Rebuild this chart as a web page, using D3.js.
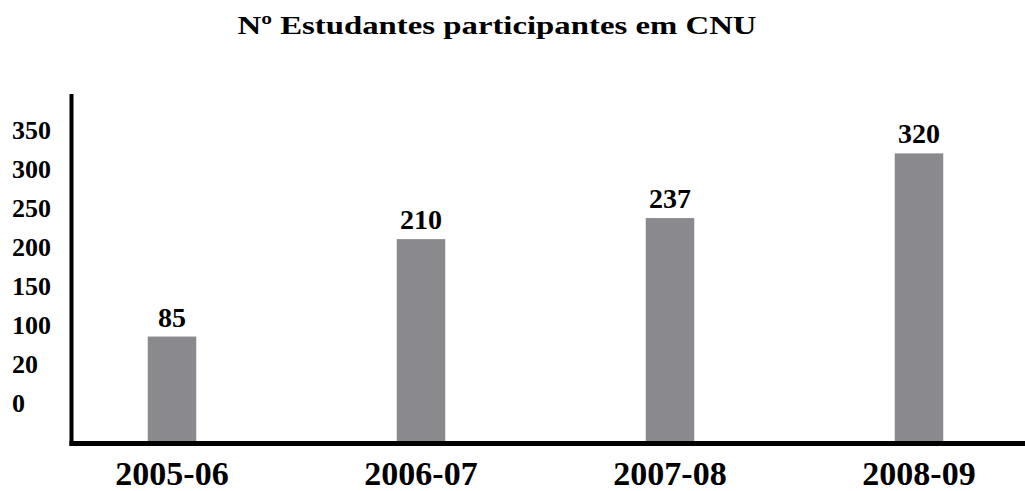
<!DOCTYPE html>
<html>
<head>
<meta charset="utf-8">
<script src="https://cdn.jsdelivr.net/npm/d3@7"></script>
<style>
    body { margin: 0; background: #fff; }
    svg { display: block; }
</style>
</head>
<body>
<svg id="chart" width="1025" height="491"></svg>
<script>
// data
var years = ["2005-06", "2006-07", "2007-08", "2008-09"];
var students = [85, 210, 237, 320];
var tickValues = [0, 50, 100, 150, 200, 250, 300, 350];
var tickLabels = ["0", "20", "100", "150", "200", "250", "300", "350"]; // as printed in the original

var serif = '"Liberation Serif", "DejaVu Serif", serif';

var svg = d3.select("#chart");

var baseY = 441,
    axisX = 71.5;

// x scale: one band per school year
var x = d3.scaleBand()
    .domain(years)
    .range([47.5, 1043.5]);

// y scale: the x axis sits a little below zero in the original
var y = d3.scaleLinear()
    .domain([-49, 350])
    .range([baseY, 130]);

// title
svg.append("text")
    .attr("x", 497)
    .attr("y", 34)
    .attr("text-anchor", "middle")
    .attr("textLength", 519)
    .attr("lengthAdjust", "spacingAndGlyphs")
    .style("font-family", serif)
    .style("font-weight", "bold")
    .style("font-size", "26px")
    .text("Nº Estudantes participantes em CNU");

// bars
var barW = 48.5;
svg.selectAll(".bar")
    .data(students)
    .enter().append("rect")
    .attr("class", "bar")
    .attr("x", function(d, i) { return x(years[i]) + x.bandwidth() / 2 - barW / 2; })
    .attr("y", function(d) { return y(d); })
    .attr("width", barW)
    .attr("height", function(d) { return baseY - y(d); })
    .style("fill", "#8a898e");

// value labels
svg.selectAll(".val")
    .data(students)
    .enter().append("text")
    .attr("class", "val")
    .attr("x", function(d, i) { return x(years[i]) + x.bandwidth() / 2; })
    .attr("y", function(d) { return y(d) - 10; })
    .attr("text-anchor", "middle")
    .style("font-family", serif)
    .style("font-weight", "bold")
    .style("font-size", "28px")
    .style("fill", "#000")
    .text(function(d) { return d; });

// y axis labels
var yAxis = d3.axisLeft(y)
    .tickValues(tickValues)
    .tickSize(0)
    .tickFormat(function(d, i) { return tickLabels[i]; });

var gy = svg.append("g")
    .attr("class", "y axis")
    .call(yAxis);
gy.select(".domain").remove();
gy.selectAll("text")
    .attr("x", 12)
    .attr("dy", "0.34em")
    .attr("text-anchor", "start")
    .style("font-family", serif)
    .style("font-weight", "bold")
    .style("font-size", "26px")
    .style("fill", "#000");

// x axis labels
var xAxis = d3.axisBottom(x).tickSize(0);
var gx = svg.append("g")
    .attr("class", "x axis")
    .attr("transform", "translate(0," + baseY + ")")
    .call(xAxis);
gx.select(".domain").remove();
gx.selectAll("text")
    .attr("y", 44)
    .attr("dy", 0)
    .style("font-family", serif)
    .style("font-weight", "bold")
    .style("font-size", "34px")
    .style("fill", "#000");

// axis lines
svg.append("line")
    .attr("x1", axisX).attr("x2", axisX)
    .attr("y1", 94).attr("y2", baseY + 5)
    .style("stroke", "#000")
    .style("stroke-width", 4);

svg.append("line")
    .attr("x1", axisX - 2).attr("x2", 1025)
    .attr("y1", baseY + 2.5).attr("y2", baseY + 2.5)
    .style("stroke", "#000")
    .style("stroke-width", 5);
</script>
</body>
</html>
